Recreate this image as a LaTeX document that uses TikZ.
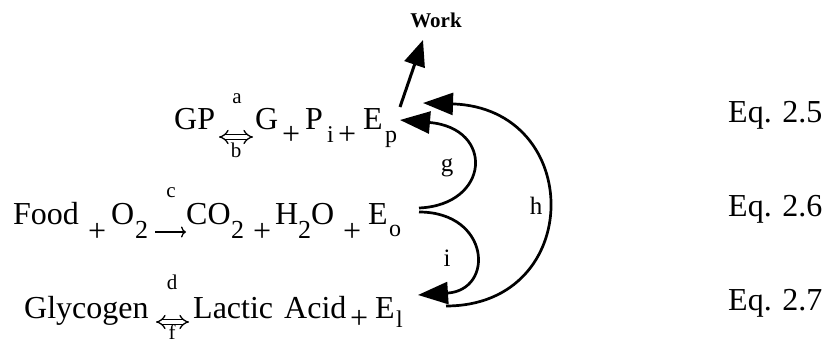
\documentclass[tikz,border=0pt]{standalone}
\usepackage{fontspec}
\setmainfont{Liberation Serif}
\usetikzlibrary{arrows.meta}
\tikzset{
  txt/.style={anchor=base west, inner sep=0pt, font=\fontsize{32}{36}\selectfont},
  sub/.style={anchor=base west, inner sep=0pt, font=\fontsize{24}{28}\selectfont},
  subtwo/.style={anchor=base west, inner sep=0pt, font=\fontsize{26}{30}\selectfont},
  lbl/.style={anchor=base, inner sep=0pt, font=\fontsize{21}{24}\selectfont},
  arclbl/.style={anchor=base, inner sep=0pt, font=\fontsize{25}{28}\selectfont},
  conn/.style={line width=2.7pt, -{Triangle[length=30pt,width=22pt]}},
  dblarrow/.style={double, double distance=3.6pt, line width=1.3pt, {Implies}-{Implies}},
  onearrow/.style={line width=1.3pt, -{To[length=5pt,width=11pt]}},
}
\begin{document}
\begin{tikzpicture}[x=1pt,y=-1pt]
\useasboundingbox (0,0) rectangle (829,344);
% ---- line 1 ----
\node[txt] (gp) at (174,130) {GP};
\node[lbl] (la) at (237,104) {a};
\coordinate (a1l) at (219,137);
\coordinate (a1r) at (253,137);
\draw[dblarrow] (a1l) -- (a1r);
\node[lbl] (lb) at (236,158) {b};
\node[txt] (g1) at (255,130) {G};
\node[txt] (p11) at (282,145) {+};
\node[txt] (pp) at (305,130) {P};
\node[sub] (pi) at (327,143) {i};
\node[txt] (p12) at (338,145) {+};
\node[txt] (ep) at (363,130) {E};
\node[sub] (eps) at (385,143) {p};
% ---- line 2 ----
\node[txt] (food) at (13,225) {Food};
\node[txt] (p21) at (88,242) {+};
\node[txt] (o2) at (111,225) {O};
\node[subtwo] (o2s) at (135,239) {2};
\node[lbl] (lc) at (171,198) {c};
\coordinate (a2l) at (155,232);
\coordinate (a2r) at (186,232);
\draw[onearrow] (a2l) -- (a2r);
\node[txt] (co) at (186,225) {CO};
\node[subtwo] (cos) at (231,239) {2};
\node[txt] (p22) at (253,242) {+};
\node[txt] (h) at (275,225) {H};
\node[subtwo] (hs) at (298,239) {2};
\node[txt] (ho) at (311,225) {O};
\node[txt] (p23) at (343,242) {+};
\node[txt] (eo) at (368,225) {E};
\node[sub] (eos) at (389,237) {o};
% ---- line 3 ----
\node[txt] (gly) at (24,318) {Glycogen};
\node[lbl] (ld) at (172,290) {d};
\coordinate (a3l) at (156,322);
\coordinate (a3r) at (189,322);
\draw[dblarrow] (a3l) -- (a3r);
\node[lbl] (lf) at (172,339) {f};
\node[txt] (lac) at (193,318) {Lactic};
\node[txt] (acid) at (284,318) {Acid};
\node[txt] (p31) at (350,328) {+};
\node[txt] (el) at (375,318) {E};
\node[sub] (els) at (396,327) {l};
% ---- equation numbers ----
\node[txt] (eq5) at (728,123) {Eq. 2.5};
\node[txt] (eq6) at (728,217) {Eq. 2.6};
\node[txt] (eq7) at (728,311) {Eq. 2.7};
% ---- work ----
\node[anchor=base, inner sep=0pt, font=\fontsize{21}{24}\selectfont\bfseries] (work) at (436,28) {Work};
\coordinate (ws) at (400,107);
\coordinate (wt) at (423,40);
\draw[line width=3pt, -{Triangle[length=26pt,width=21pt]}] (ws) -- (wt);
% ---- energy arcs ----
\coordinate (gs) at (419,208);
\coordinate (gt) at (400,120);
\coordinate (is) at (419,212);
\coordinate (it) at (418,295);
\coordinate (hs0) at (446,306);
\coordinate (ht) at (423,103);
\draw[conn] (gs) .. controls (490,205) and (495,128) .. (gt);
\draw[conn] (is) .. controls (490,212) and (495,290) .. (it);
\draw[conn] (hs0) .. controls (585,306) and (585,108) .. (ht);
\node[arclbl] (lg) at (447,172) {g};
\node[arclbl] (lh) at (536,215) {h};
\node[arclbl] (li) at (447,267) {i};
\end{tikzpicture}
\end{document}
